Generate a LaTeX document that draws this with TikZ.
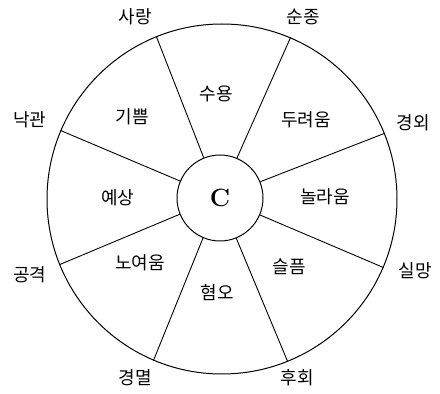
\documentclass[tikz,border=0pt]{standalone}
\usepackage{fontspec}
\newfontfamily\kr{Noto Sans CJK KR}
\begin{document}
\begin{tikzpicture}[x=1pt,y=1pt,
  ring/.style={draw=black,line width=1pt,circle,inner sep=0pt},
  lbl/.style={font=\kr\fontsize{18}{18}\selectfont,inner sep=0pt},
  spoke/.style={draw=black,line width=0.9pt}]
\useasboundingbox (0,0) rectangle (440,394);
\node[ring,minimum size=350pt] (outer) at (222,195) {};
\node[ring,minimum size=86pt,font=\bfseries\fontsize{25}{25}\selectfont] (inner) at (220,196) {C};
\foreach \a in {22.5,67.5,112.5,157.5,202.5,247.5,292.5,337.5}
  \draw[spoke] (inner.\a) -- (outer.\a);
% inner labels
\node[lbl] (joy) at (132,277) {기쁨};
\node[lbl] (trust) at (216,300) {수용};
\node[lbl] (fear) at (306,274) {두려움};
\node[lbl] (surprise) at (325,197) {놀라움};
\node[lbl] (sad) at (289,127) {슬픔};
\node[lbl] (disgust) at (217,101) {혐오};
\node[lbl] (anger) at (140,131) {노여움};
\node[lbl] (antic) at (118,196) {예상};
% outer labels
\node[lbl] (love) at (135,377) {사랑};
\node[lbl] (subm) at (303,377) {순종};
\node[lbl] (awe) at (413,271) {경외};
\node[lbl] (disap) at (415,123) {실망};
\node[lbl] (remorse) at (297,16) {후회};
\node[lbl] (contempt) at (135,16) {경멸};
\node[lbl] (aggr) at (30,119) {공격};
\node[lbl] (optim) at (30,274) {낙관};
\end{tikzpicture}
\end{document}
